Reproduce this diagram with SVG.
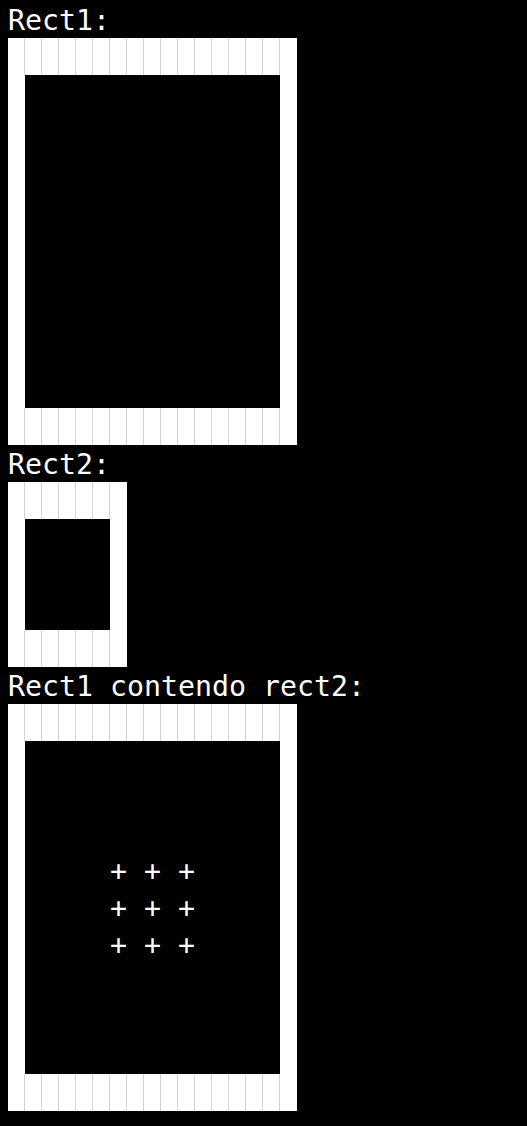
<svg xmlns="http://www.w3.org/2000/svg" width="527" height="1126" viewBox="0 0 527 1126">
<style>
.t{font-family:"DejaVu Sans Mono","Liberation Mono",monospace;font-size:28.24px;fill:#ffffff}
.w{fill:#ffffff}
.b{fill:#000000}
.g{fill:none;stroke:#d3d3d3;stroke-width:1}
</style>
<rect x="0" y="0" width="527" height="1126" fill="#000000"/>
<g id="label1"><text class="t" x="8" y="30">Rect1:</text></g>
<g id="rect1">
<rect class="w" x="8" y="38" width="289" height="407"/>
<rect class="b" x="25" y="75" width="255" height="333"/>
<path class="g" d="M24.5 38v37m17-37v37m17-37v37m17-37v37m17-37v37m17-37v37m17-37v37m17-37v37m17-37v37m17-37v37m17-37v37m17-37v37m17-37v37m17-37v37m17-37v37m17-37v37"/>
<path class="g" d="M24.5 408v37m17-37v37m17-37v37m17-37v37m17-37v37m17-37v37m17-37v37m17-37v37m17-37v37m17-37v37m17-37v37m17-37v37m17-37v37m17-37v37m17-37v37m17-37v37"/>
</g>
<g id="label2"><text class="t" x="8" y="474">Rect2:</text></g>
<g id="rect2">
<rect class="w" x="8" y="482" width="119" height="185"/>
<rect class="b" x="25" y="519" width="85" height="111"/>
<path class="g" d="M24.5 482v37m17-37v37m17-37v37m17-37v37m17-37v37m17-37v37"/>
<path class="g" d="M24.5 630v37m17-37v37m17-37v37m17-37v37m17-37v37m17-37v37"/>
</g>
<g id="label3"><text class="t" x="8" y="696">Rect1 contendo rect2:</text></g>
<g id="rect3">
<rect class="w" x="8" y="704" width="289" height="407"/>
<rect class="b" x="25" y="741" width="255" height="333"/>
<path class="g" d="M24.5 704v37m17-37v37m17-37v37m17-37v37m17-37v37m17-37v37m17-37v37m17-37v37m17-37v37m17-37v37m17-37v37m17-37v37m17-37v37m17-37v37m17-37v37m17-37v37"/>
<path class="g" d="M24.5 1074v37m17-37v37m17-37v37m17-37v37m17-37v37m17-37v37m17-37v37m17-37v37m17-37v37m17-37v37m17-37v37m17-37v37m17-37v37m17-37v37m17-37v37m17-37v37"/>
<g id="plus">
<text class="t" x="110" y="881" xml:space="preserve">+ + +</text>
<text class="t" x="110" y="918" xml:space="preserve">+ + +</text>
<text class="t" x="110" y="955" xml:space="preserve">+ + +</text>
</g>
</g>
</svg>
